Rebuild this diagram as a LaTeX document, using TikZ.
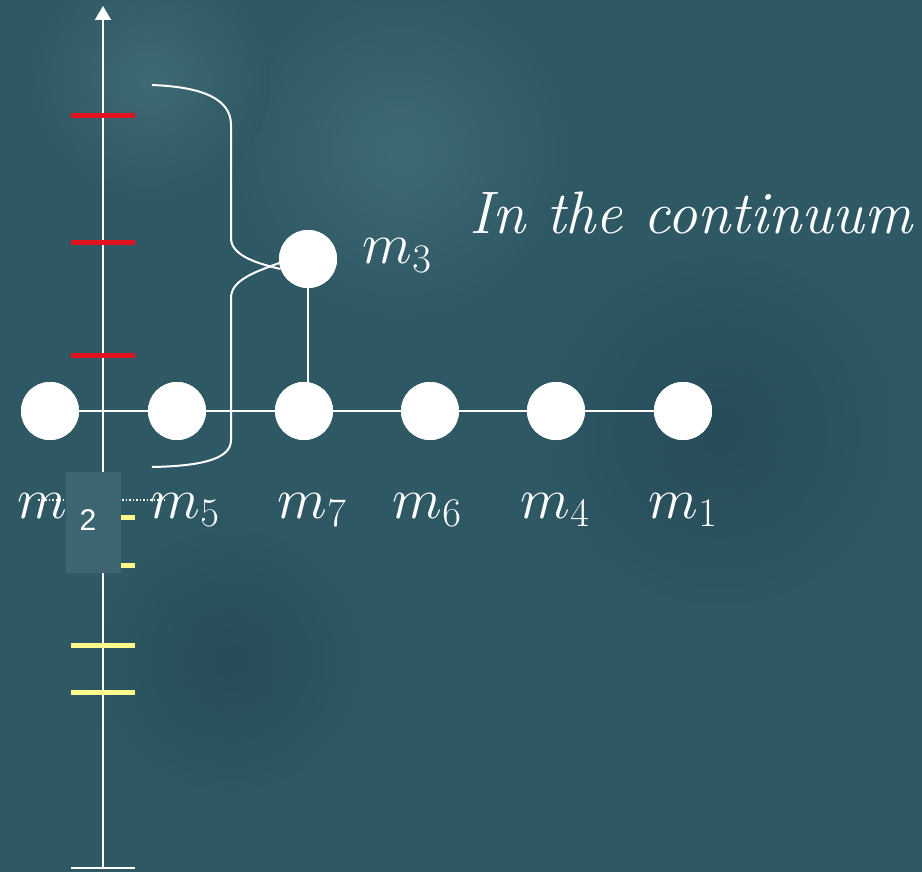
\RequirePackage{fix-cm}
\documentclass[tikz,border=0pt]{standalone}
\usepackage{fontspec}
\newfontfamily\arialf{Liberation Sans}
\usetikzlibrary{arrows.meta}
\definecolor{bgteal}{RGB}{46,88,100}
\definecolor{bglight}{RGB}{62,106,116}
\definecolor{bgdark}{RGB}{38,76,88}
\definecolor{boxteal}{RGB}{60,101,113}
\definecolor{tickred}{RGB}{226,18,30}
\definecolor{tickyellow}{RGB}{255,250,140}
\begin{document}
\begin{tikzpicture}[x=1pt,y=-1pt,
  dot/.style={circle,fill=white,minimum size=58pt,inner sep=0pt},
  wline/.style={white,line width=2pt},
  redtick/.style={tickred,line width=5pt},
  yeltick/.style={tickyellow,line width=5pt},
  mlabel/.style={white,anchor=base,inner sep=0pt,font=\fontsize{58}{62}\selectfont}]
\fill[bgteal] (0,0) rectangle (922,872);
\useasboundingbox (0,0) rectangle (922,872);
% soft texture
\shade[inner color=bglight,outer color=bgteal] (400,150) circle (170);
\shade[inner color=bglight,outer color=bgteal] (150,80) circle (120);
\shade[inner color=bgdark,outer color=bgteal] (720,430) circle (200);
\shade[inner color=bgdark,outer color=bgteal] (230,660) circle (150);
% axis
\coordinate (axb) at (103,868);
\coordinate (axt) at (103,6);
\draw[wline,-{Triangle[width=16pt,length=14pt]}] (axb) -- (axt);
\coordinate (bl) at (71,868); \coordinate (br) at (135,868);
\draw[wline] (bl) -- (br);
% red ticks
\foreach \yy in {116,243,355} \draw[redtick] (71,\yy) -- (135,\yy);
% yellow ticks
\foreach \yy in {517,565,645,692} \draw[yeltick] (71,\yy) -- (135,\yy);
% nodes
\node[dot] (n1) at (50,411) {};
\node[dot] (n2) at (177,411) {};
\node[dot] (n3) at (304,411) {};
\node[dot] (n4) at (430,411) {};
\node[dot] (n5) at (556,411) {};
\node[dot] (n6) at (683,411) {};
\node[dot] (top) at (308,259) {};
\draw[wline] (n1) -- (n2) -- (n3) -- (n4) -- (n5) -- (n6);
\draw[wline] (top) -- (top |- n3);
% redraw nodes above lines
\foreach \p in {(50,411),(177,411),(304,411),(430,411),(556,411),(683,411),(308,259)}
  \fill[white] \p circle (29);
% brace
\coordinate (b1) at (152,85);
\coordinate (b2) at (152,467);
\draw[wline] (b1) .. controls (205,87) and (231,100) .. (231,125) -- (231,238)
  .. controls (231,255) and (255,263) .. (top.200);
\draw[wline] (top.188) .. controls (255,272) and (231,280) .. (231,298) -- (231,440)
  .. controls (231,458) and (205,466) .. (b2);
% labels
\node[mlabel] (l1) at (42,518) {$m$};
\node[mlabel] (l2) at (185,518) {$m_5$};
\node[mlabel] (l3) at (312,518) {$m_7$};
\node[mlabel] (l4) at (427,518) {$m_6$};
\node[mlabel] (l5) at (555,518) {$m_4$};
\node[mlabel] (l6) at (683,518) {$m_1$};
\node[mlabel] (l7) at (397,264) {$m_3$};
% dotted line and box
\coordinate (d1) at (38,500); \coordinate (d2) at (165,500);
\draw[white,dotted,line width=1.5pt] (d1) -- (d2);
\fill[boxteal] (66,472) rectangle (121,573);
\node[white,inner sep=0pt,anchor=base] (two) at (88,530) {\fontsize{30}{34}\selectfont\arialf 2};
% title
\node[white,font=\itshape\fontsize{60}{66}\selectfont] (title) at (691,213) {In the continuum};
\end{tikzpicture}
\end{document}
